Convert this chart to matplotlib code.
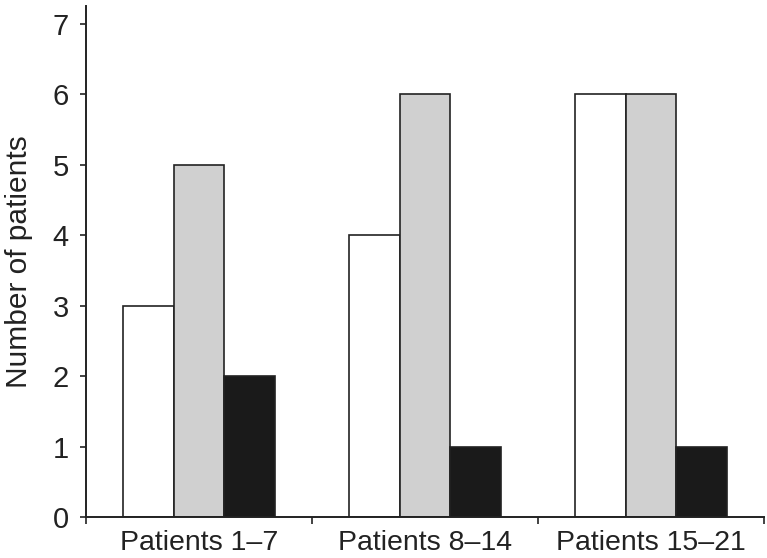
import numpy as np
import matplotlib.pyplot as plt

plt.rcParams['font.family'] = ['Liberation Sans', 'DejaVu Sans']

groups = ["Patients 1\u20137", "Patients 8\u201314", "Patients 15\u201321"]
white_vals = [3, 4, 6]
grey_vals = [5, 6, 6]
black_vals = [2, 1, 1]

fig = plt.figure(figsize=(7.67, 5.58), dpi=100)
ax = fig.add_axes([86 / 767, 41 / 558, 678 / 767, 511 / 558])

x = np.arange(len(groups))
width = 0.223
edge = "#222222"
ax.bar(x - width, white_vals, width, color="white", edgecolor=edge, linewidth=1.2, zorder=2)
ax.bar(x, grey_vals, width, color="#d0d0d0", edgecolor=edge, linewidth=1.2, zorder=2)
ax.bar(x + width, black_vals, width, color="#1a1a1a", edgecolor=edge, linewidth=1.2, zorder=2)

ax.set_xlim(-0.5, len(groups) - 0.5)
ax.set_ylim(0, 7.25)
ax.set_yticks(range(0, 8))
ax.set_xticks(x, groups)
ax.set_xticks(np.arange(-0.5, len(groups)), minor=True)

ax.spines["top"].set_visible(False)
ax.spines["right"].set_visible(False)
for s in ("left", "bottom"):
    ax.spines[s].set_linewidth(1.4)
    ax.spines[s].set_color("#222222")

ax.tick_params(axis="y", length=4.5, width=1.2, pad=8, labelsize=21, colors="#222222")
ax.tick_params(axis="x", which="major", length=0, pad=9, labelsize=20.5, colors="#222222")
ax.tick_params(axis="x", which="minor", length=5, width=1.2, color="#222222")

ax.set_ylabel("Number of patients", fontsize=21.5, color="#222222", labelpad=14)

fig.savefig("out.png", dpi=100)
